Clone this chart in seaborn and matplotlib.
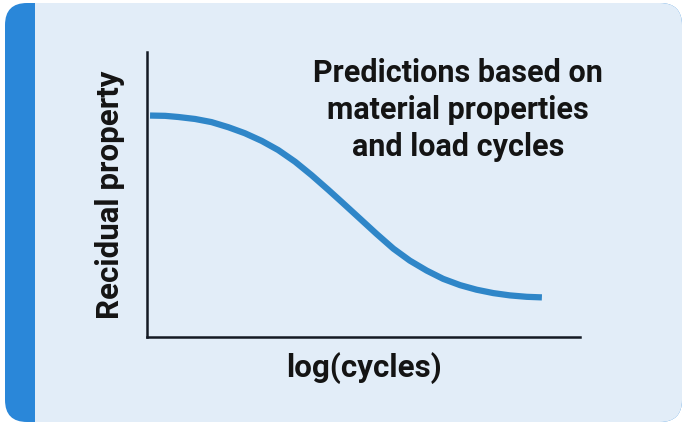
import matplotlib
matplotlib.use("Agg")
import matplotlib.pyplot as plt
import seaborn as sns
import pandas as pd
from matplotlib.patches import FancyBboxPatch, Rectangle
from matplotlib.transforms import IdentityTransform

# curve (x = log cycles, y = residual property)
log_cycles = [0.07, 0.42, 0.72, 1.11, 1.49, 1.88, 2.26, 2.65, 3.03, 3.42, 3.80, 4.19, 4.51,
              4.92, 5.30, 5.69, 6.07, 6.46, 6.84, 7.23, 7.61, 8.00, 8.38, 8.77, 9.12]
residual = [0.777, 0.776, 0.772, 0.765, 0.754, 0.736, 0.715, 0.688, 0.656, 0.615, 0.568, 0.516, 0.472,
            0.415, 0.362, 0.310, 0.268, 0.233, 0.204, 0.182, 0.166, 0.154, 0.146, 0.141, 0.139]

x_label = "log(cycles)"
y_label = "Recidual property"
note = "Predictions based on\nmaterial properties\nand load cycles"

df = pd.DataFrame({"x": log_cycles, "y": residual})

sns.set_style("white")
plt.rcParams["font.family"] = ["Roboto", "DejaVu Sans"]

fig = plt.figure(figsize=(6.84, 4.25), dpi=100)
fig.patch.set_facecolor("white")

# card background with blue stripe on the left (pixel coords)
card_bg = "#e2edf8"
stripe = "#2a87d9"
fig.patches.append(FancyBboxPatch((5, 3), 677, 419, boxstyle="round,pad=0,rounding_size=22",
                                  transform=IdentityTransform(), facecolor=stripe, edgecolor="none", zorder=-3))
fig.patches.append(FancyBboxPatch((35, 3), 647, 419, boxstyle="round,pad=0,rounding_size=22",
                                  transform=IdentityTransform(), facecolor=card_bg, edgecolor="none", zorder=-2))
fig.patches.append(Rectangle((35, 3), 60, 419, transform=IdentityTransform(),
                             facecolor=card_bg, edgecolor="none", zorder=-2))

ax = fig.add_axes([147 / 684, 1 - 337 / 425, (580 - 147) / 684, (337 - 52) / 425])
ax.set_facecolor("none")
sns.lineplot(data=df, x="x", y="y", ax=ax, color="#2f86c8", linewidth=4.5)
for line in ax.lines:
    line.set_solid_capstyle("butt")
    line.set_solid_joinstyle("round")

ax.set_xlim(0, 10)
ax.set_ylim(0, 1)
ax.set_xticks([])
ax.set_yticks([])
sns.despine(ax=ax)
for s in ["left", "bottom"]:
    ax.spines[s].set_linewidth(1.8)
    ax.spines[s].set_color("#141a24")

ax.set_xlabel(x_label, fontsize=22.5, fontweight="bold", color="#141414", labelpad=11)
ax.set_ylabel(y_label, fontsize=22.5, fontweight="bold", color="#141414", labelpad=16)

fig.text(458 / 684, 1 - 58 / 425, note, ha="center", va="top", fontsize=22,
         fontweight="bold", color="#141414", linespacing=1.3)

fig.savefig("out.png", dpi=100)
